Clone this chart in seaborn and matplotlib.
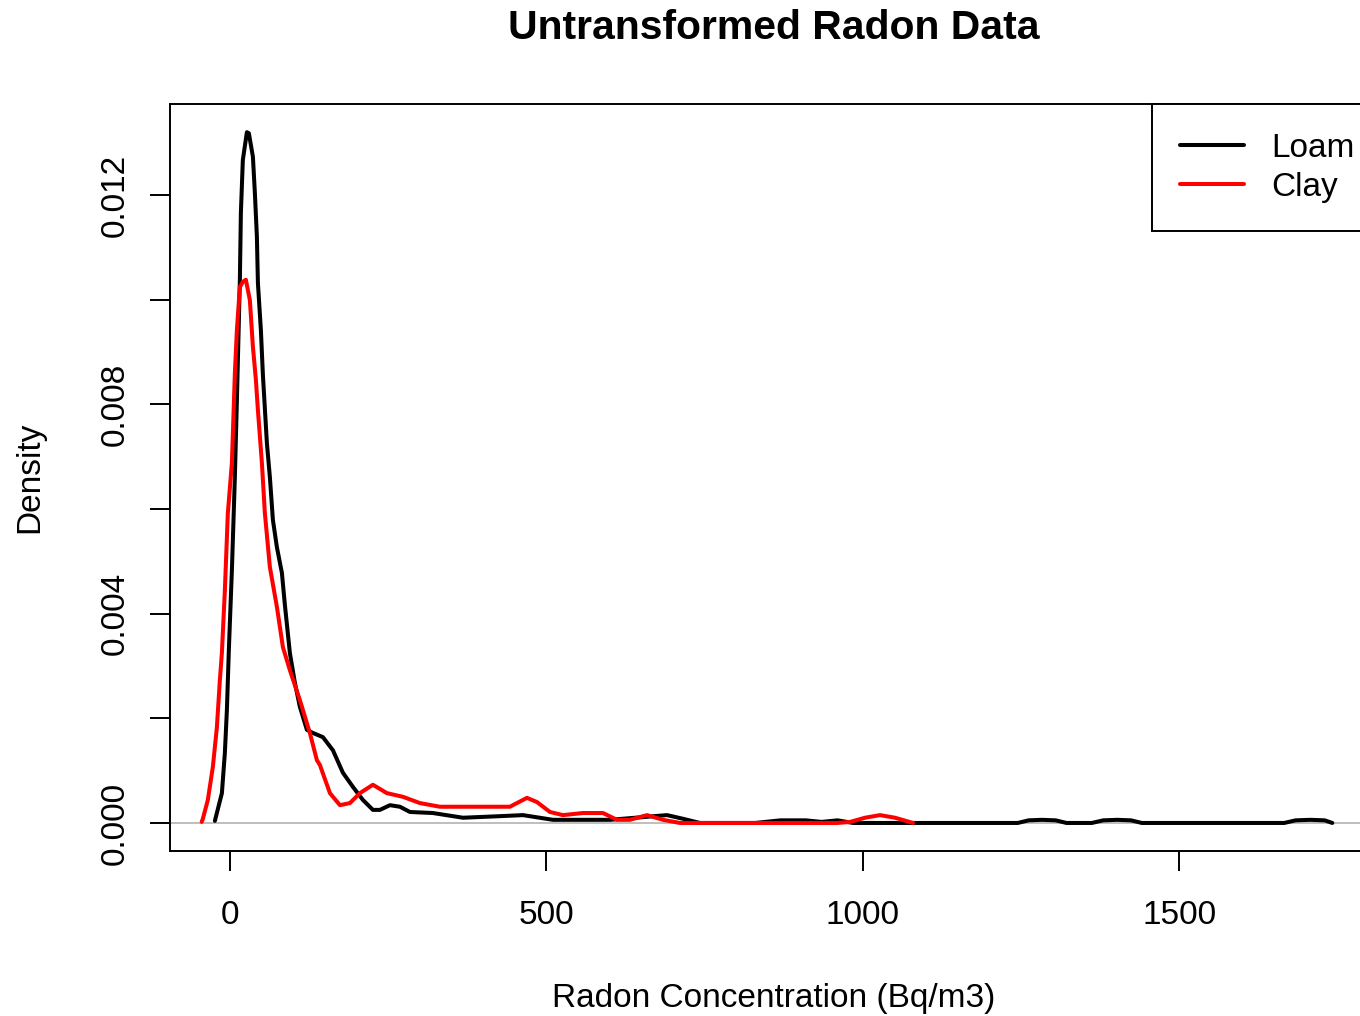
import numpy as np
import pandas as pd
import matplotlib
matplotlib.use("Agg")
import matplotlib.pyplot as plt
import seaborn as sns

# ---- data ----
loam_x = [-23.7, -12.6, -7.9, -4.7, -1.6, 3.2, 7.9, 11.1, 15.8, 17.4, 20.5, 26.9, 30.0,
          36.4, 39.5, 42.7, 44.3, 49.0, 52.2, 58.5, 63.2, 68.0, 74.3, 82.2, 86.9, 94.8,
          102.7, 110.6, 121.7, 131.2, 147.0, 162.8, 178.6, 194.4, 210.2, 226.0, 237.1,
          252.9, 268.7, 284.5, 320.8, 368.3, 426.7, 463.1, 510.5, 600.6, 690.7, 716.0,
          742.8, 830.0, 870.0, 910.0, 935.0, 960.0, 985.0, 1245.0, 1262.0, 1283.0,
          1305.0, 1322.0, 1362.0, 1380.0, 1402.0, 1424.0, 1441.0, 1666.0, 1684.0,
          1707.0, 1730.0, 1742.0]
loam_y = [0.00004, 0.00057, 0.00134, 0.00216, 0.00331, 0.00483, 0.00661, 0.00808, 0.01038,
          0.01166, 0.01267, 0.01320, 0.01318, 0.01273, 0.01204, 0.01120, 0.01032, 0.00942,
          0.00856, 0.00726, 0.00661, 0.00579, 0.00527, 0.00478, 0.00417, 0.00325, 0.00268,
          0.00222, 0.00178, 0.00172, 0.00164, 0.00139, 0.00096, 0.00069, 0.00044, 0.00025,
          0.00025, 0.00034, 0.00031, 0.00021, 0.00019, 0.00010, 0.00013, 0.00015, 0.00006,
          0.00006, 0.00015, 0.00008, 0.00000, 0.00000, 0.00005, 0.00005, 0.00002, 0.00005,
          0.00000, 0.00000, 0.00005, 0.00006, 0.00005, 0.00000, 0.00000, 0.00005, 0.00006,
          0.00005, 0.00000, 0.00000, 0.00005, 0.00006, 0.00005, 0.00000]

clay_x = [-44.5, -42.7, -34.8, -26.9, -20.5, -15.8, -12.6, -7.9, -3.2, 3.2, 7.9, 11.1, 15.8,
          20.5, 25.3, 31.6, 36.4, 41.1, 44.3, 50.6, 55.3, 63.2, 74.3, 83.8, 94.8, 110.6,
          126.4, 137.5, 142.2, 158.1, 173.9, 189.7, 205.5, 226.0, 248.1, 273.4, 300.3,
          331.9, 442.5, 469.4, 485.2, 505.8, 526.3, 557.9, 589.5, 611.7, 632.2, 659.1,
          684.4, 711.2, 960.0, 980.0, 1003.6, 1027.3, 1051.0, 1079.5]
clay_y = [0.00002, 0.00008, 0.00044, 0.00107, 0.00183, 0.00273, 0.00325, 0.00445, 0.00592,
          0.00688, 0.00860, 0.00942, 0.01024, 0.01034, 0.01038, 0.00999, 0.00910, 0.00847,
          0.00789, 0.00688, 0.00592, 0.00489, 0.00413, 0.00336, 0.00292, 0.00235, 0.00172,
          0.00120, 0.00111, 0.00057, 0.00034, 0.00038, 0.00057, 0.00073, 0.00057, 0.00050,
          0.00038, 0.00031, 0.00031, 0.00048, 0.00040, 0.00021, 0.00015, 0.00019, 0.00019,
          0.00006, 0.00006, 0.00015, 0.00006, 0.00000, 0.00000, 0.00002, 0.00010, 0.00015,
          0.00010, 0.00000]

series_names = ["Loam", "Clay"]
series_colors = ["black", "red"]
x_ticks = [0, 500, 1000, 1500]
y_ticks = [0.000, 0.002, 0.004, 0.006, 0.008, 0.010, 0.012]
y_tick_labels = ["0.000", "", "0.004", "", "0.008", "", "0.012"]
title = "Untransformed Radon Data"
x_label = "Radon Concentration (Bq/m3)"
y_label = "Density"

df = pd.concat([
    pd.DataFrame({"x": loam_x, "density": loam_y, "soil": "Loam"}),
    pd.DataFrame({"x": clay_x, "density": clay_y, "soil": "Clay"}),
], ignore_index=True)

sns.set_theme(style="white")
plt.rcParams["font.family"] = ["Liberation Sans", "DejaVu Sans"]
plt.rcParams["text.color"] = "black"
plt.rcParams["axes.labelcolor"] = "black"
plt.rcParams["xtick.color"] = "black"
plt.rcParams["ytick.color"] = "black"

fig = plt.figure(figsize=(13.6, 10.16), dpi=100)
ax = fig.add_axes([0.125, 0.1628, 0.8875, 0.7345])

ax.axhline(0, color="#BEBEBE", lw=1.4, zorder=1)
sns.lineplot(data=df, x="x", y="density", hue="soil", hue_order=series_names,
             palette=dict(zip(series_names, series_colors)), estimator=None,
             sort=True, lw=2.9, ax=ax, zorder=3)

ax.set_xlim(-94.6, 1812.6)
ax.set_ylim(-0.000528, 0.013732)
ax.set_xticks(x_ticks)
ax.set_xticklabels([str(t) for t in x_ticks])
ax.set_yticks(y_ticks)
ax.set_yticklabels(y_tick_labels, rotation=90, va="center")

ax.tick_params(axis="both", which="major", direction="out", length=14.4, width=1.4,
               color="black", labelsize=24, labelcolor="black", bottom=True, left=True)
ax.tick_params(axis="x", pad=21.5)
ax.tick_params(axis="y", pad=14)

for s in ax.spines.values():
    s.set_visible(True)
    s.set_color("black")
    s.set_linewidth(1.4)

ax.set_title(title, fontsize=29.4, fontweight="bold", pad=47, color="black")
ax.set_xlabel(x_label, fontsize=24, color="black")
ax.set_ylabel(y_label, fontsize=24, color="black")
ax.xaxis.set_label_coords(0.5, -0.177)
ax.yaxis.set_label_coords(-0.103, 0.5)

handles, labels = ax.get_legend_handles_labels()
leg = ax.legend(handles, labels, loc="upper left",
                bbox_to_anchor=((1152 - 170) / 1207, 1.0), borderaxespad=0,
                fontsize=24, handlelength=1.9, handletextpad=0.84, borderpad=0.85,
                labelspacing=0.24, frameon=True, fancybox=False, framealpha=1,
                edgecolor="black", labelcolor="black")
leg.get_frame().set_linewidth(1.4)
for line in leg.get_lines():
    line.set_linewidth(2.9)

fig.savefig("out.png", dpi=100)
